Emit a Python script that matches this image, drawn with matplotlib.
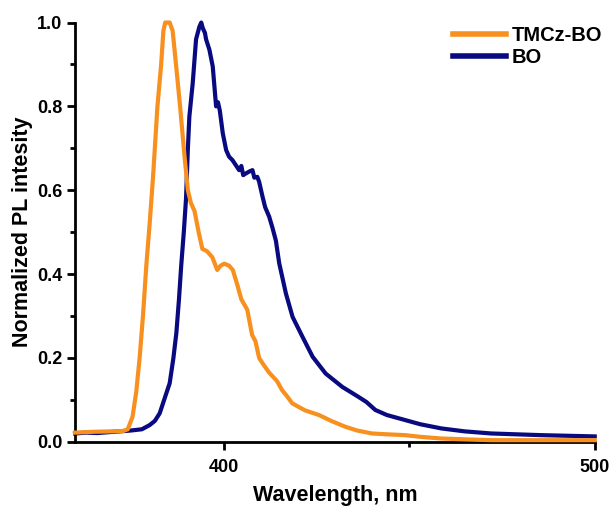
import matplotlib
matplotlib.use("Agg")
import matplotlib.pyplot as plt
from matplotlib.ticker import MultipleLocator, FixedLocator, FormatStrFormatter

plt.rcParams['font.family'] = ['Liberation Sans', 'DejaVu Sans']
plt.rcParams['font.weight'] = 'bold'

wl_tmcz = [360, 365, 370, 373, 374.2, 375.5, 376.5, 377.4, 378.3, 379.2, 380.1, 381, 382.2, 383.2, 383.8,
           384.3, 385.5, 386.3, 387.2, 388.3, 389.5, 390.4, 391.2, 392.2, 393.3, 394.3, 395.5, 397, 398.3, 399.2,
           400.2, 401.5, 402.5, 403.7, 404.8, 406.4, 407.7, 408.6, 409.6, 410.7, 412.3, 414.4, 415.8,
           417, 418.5, 420.5, 422, 425.7, 429, 432.8, 436, 440, 444, 448.9, 453, 458.7, 465, 472, 485, 500]
pl_tmcz = [0.022, 0.024, 0.025, 0.026, 0.03, 0.06, 0.12, 0.2, 0.3, 0.42, 0.52, 0.63, 0.8, 0.9, 0.98,
           1.0, 1.0, 0.98, 0.9, 0.8, 0.68, 0.6, 0.57, 0.55, 0.5, 0.46, 0.455, 0.44, 0.41, 0.42,
           0.425, 0.42, 0.41, 0.375, 0.34, 0.315, 0.255, 0.24, 0.2, 0.185, 0.165, 0.145, 0.123,
           0.11, 0.092, 0.082, 0.075, 0.064, 0.05, 0.036, 0.027, 0.02, 0.018, 0.016, 0.012, 0.008,
           0.006, 0.004, 0.004, 0.004]

wl_bo = [360, 363, 366, 369, 372, 375, 378, 380.1, 381.5, 382.8, 384, 385.5, 386.5, 387.3, 388, 388.6,
         389.3, 389.9, 390.4, 390.8, 391.7, 392.6, 393.5, 394, 394.4, 395, 395.3, 396.2, 397.1, 398,
         398.5, 399, 399.8, 400.7, 401.5, 402.4, 403.3, 404.2, 404.8, 405.3, 406, 407, 407.8, 408.3,
         409.1, 409.6, 410.5, 411.2, 412.3, 413.2, 414.1, 415, 416.8, 418.6, 421.3, 424, 427.5, 432,
         436.4, 438.5, 440.9, 444, 448.9, 453, 458.7, 465, 472.1, 485.5, 500]
pl_bo = [0.02, 0.022, 0.021, 0.023, 0.025, 0.027, 0.03, 0.04, 0.05, 0.068, 0.1, 0.14, 0.2, 0.26, 0.34, 0.42,
         0.5, 0.58, 0.7, 0.776, 0.855, 0.96, 0.99, 1.0, 0.987, 0.975, 0.96, 0.935, 0.895, 0.8,
         0.81, 0.79, 0.736, 0.696, 0.68, 0.672, 0.66, 0.648, 0.658, 0.636, 0.64, 0.645, 0.648, 0.63,
         0.632, 0.62, 0.585, 0.56, 0.537, 0.51, 0.48, 0.426, 0.354, 0.298, 0.25, 0.203, 0.163, 0.131,
         0.107, 0.095, 0.076, 0.064, 0.052, 0.042, 0.032, 0.025, 0.02, 0.016, 0.013]

labels = ['TMCz-BO', 'BO']
colors = ['#F7901E', '#0A0A80']
xticks_major = [400, 500]
xticks_minor = [450]

fig = plt.figure(figsize=(6.1, 5.12), dpi=100)
ax = fig.add_axes([0.123, 0.137, 0.852, 0.819])
ax.plot(wl_tmcz, pl_tmcz, color=colors[0], lw=3.0, label=labels[0], clip_on=False, zorder=3,
        solid_joinstyle='round')
ax.plot(wl_bo, pl_bo, color=colors[1], lw=3.0, label=labels[1], clip_on=False, zorder=2,
        solid_joinstyle='round')

ax.set_xlim(360, 500)
ax.set_ylim(0, 1.0)
ax.xaxis.set_major_locator(FixedLocator(xticks_major))
ax.xaxis.set_minor_locator(FixedLocator(xticks_minor))
ax.yaxis.set_major_locator(MultipleLocator(0.2))
ax.yaxis.set_minor_locator(MultipleLocator(0.1))
ax.yaxis.set_major_formatter(FormatStrFormatter('%.1f'))
for s in ['top', 'right']:
    ax.spines[s].set_visible(False)
for s in ['left', 'bottom']:
    ax.spines[s].set_linewidth(2)
ax.tick_params(which='major', direction='out', length=6, width=2, labelsize=13, pad=3)
ax.tick_params(which='minor', direction='out', length=3.5, width=2)
ax.tick_params(axis='x', which='major', pad=6)
for t in ax.get_xticklabels() + ax.get_yticklabels():
    t.set_fontweight('bold')

ax.set_xlabel('Wavelength, nm', fontsize=15.5, fontweight='bold', labelpad=7)
ax.set_ylabel('Normalized PL intesity', fontsize=15.5, fontweight='bold', labelpad=3)

leg = ax.legend(loc='upper right', bbox_to_anchor=(1.03, 1.01), frameon=False, fontsize=14.5,
                handlelength=2.6, handletextpad=0.3, labelspacing=0.12, borderaxespad=0.0)
for t in leg.get_texts():
    t.set_fontweight('bold')
for l in leg.get_lines():
    l.set_linewidth(4)

fig.savefig('out.png', dpi=100)
